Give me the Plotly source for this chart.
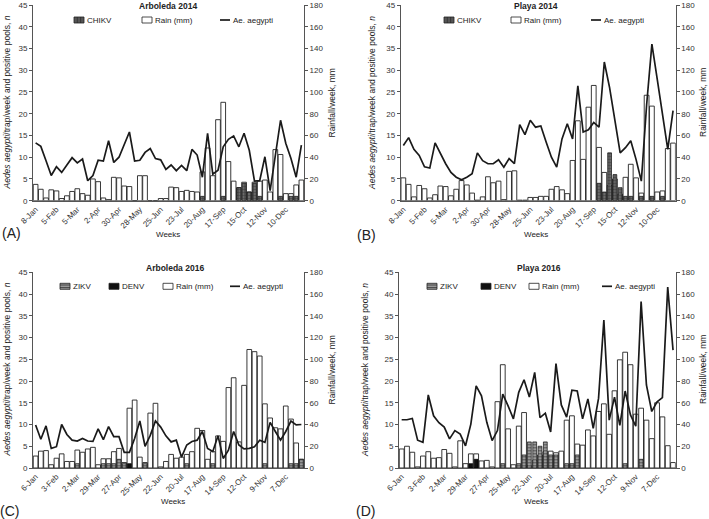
import plotly.graph_objects as go

W, H = 709, 519

weeks = list(range(1, 53))
tick_weeks = [1, 5, 9, 13, 17, 21, 25, 29, 33, 37, 41, 45, 49]
labels_2014 = ["8-Jan", "5-Feb", "5-Mar", "2-Apr", "30-Apr", "28-May", "25-Jun",
               "23-Jul", "20-Aug", "17-Sep", "15-Oct", "12-Nov", "10-Dec"]
labels_2016 = ["6-Jan", "3-Feb", "2-Mar", "29-Mar", "27-Apr", "25-May", "22-Jun",
               "20-Jul", "17-Aug", "14-Sep", "12-Oct", "9-Nov", "7-Dec"]

# ---- Arboleda 2014 ----
rain_arb14 = [15, 10.5, 2.5, 10, 9, 2, 4.5, 8.5, 11, 6.5, 5, 20, 17.5, 2.5, 1, 21.5, 21, 13.5, 13, 0,
              23, 23, 0, 0, 2, 2, 12.5, 12, 8.5, 9.5, 8.5, 8, 26.5, 48.5, 23, 74.5, 90.5, 36, 18, 12,
              17, 8, 17, 18, 19, 8, 47, 42.5, 6.5, 6.5, 14.5, 19]
aeg_arb14 = [13.3, 12.5, 9.2, 5.8, 7.8, 6.5, 8.2, 9.9, 8.7, 9.6, 4.6, 5.8, 9.3, 9.1, 13.8, 8.8, 10.0,
             13.0, 15.8, 9.1, 9.3, 11.1, 12.0, 9.7, 9.4, 7.2, 8.2, 6.9, 8.1, 6.9, 11.8, 10.5, 5.4,
             15.5, 6.1, 7.0, 12.4, 14.1, 14.9, 12.4, 15.5, 11.6, 4.5, 4.6, 10.1, 2.3, 10.4, 18.5,
             13.2, 9.7, 5.4, 12.8]
chikv_arb14 = [0] * 32 + [1, 0, 0, 0, 1, 0, 0, 3, 4, 2, 4, 1, 0, 0, 0, 1, 0, 1, 1, 0]

# ---- Playa 2014 ----
rain_pla14 = [21, 15, 3.5, 14, 11, 2.5, 5.5, 13.5, 13, 4.5, 10.5, 18.5, 14.5, 7, 0.5, 3.5, 22, 16.5,
              18, 1, 27, 27.5, 0.5, 0.5, 3, 3, 4, 4, 10.5, 13, 10, 6.5, 37, 73.5, 38, 86, 106, 49,
              26, 14, 20, 6, 21.5, 33.5, 21, 7, 97, 87, 8, 9, 48, 53]
aeg_pla14 = [12.7, 14.5, 11.8, 10.4, 7.8, 7.5, 13.3, 10.9, 8.5, 6.5, 5.4, 4.8, 5.4, 6.2, 11.0, 9.2,
             8.5, 8.5, 9.4, 7.7, 9.7, 8.5, 17.5, 15.2, 18.5, 16.9, 17.2, 13.5, 10.0, 7.7, 14.2, 17.7,
             14.2, 26.4, 15.8, 16.3, 18.0, 16.9, 31.9, 26.0, 18.5, 11.0, 12.2, 13.8, 9.5, 4.5, 22.0,
             36.0, 28.0, 20.0, 11.8, 20.7]
chikv_pla14 = [0] * 37 + [4, 2, 11, 6, 3, 1, 1, 0, 1, 0, 1, 0, 1, 0, 0]

# ---- Arboleda 2016 ----
rain_arb16 = [11, 15.5, 16, 3, 9, 13, 6, 6, 16.5, 14.5, 17.5, 19, 3, 8.5, 8.5, 15, 18, 5, 55, 62.5,
              10, 5, 50.5, 59.5, 1, 6, 12.5, 9, 10, 12.5, 15, 36.5, 34.5, 8, 15, 29.5, 24.5, 74, 83,
              24, 76, 109, 107, 103, 59, 46, 37, 36, 57, 45, 23, 8]
aeg_arb16 = [9.9, 6.6, 9.7, 4.5, 4.9, 10.0, 7.7, 6.4, 6.2, 6.8, 6.2, 6.1, 9.0, 6.5, 9.5, 7.2, 7.2,
             3.6, 3.6, 6.8, 10.8, 5.0, 7.5, 10.8, 9.4, 7.4, 6.0, 6.4, 2.5, 5.3, 6.1, 6.4, 8.4, 4.5,
             3.8, 7.4, 2.2, 4.1, 8.4, 5.3, 4.4, 4.5, 4.9, 6.4, 5.9, 10.5, 8.4, 6.4, 8.4, 10.8, 9.9, 10.0]
zikv_arb16 = [0] * 8 + [1, 0, 0, 0, 0, 1, 1, 1, 2, 1, 0, 0, 0, 1, 0, 0, 0, 0, 0, 0, 0, 1, 0, 0, 0, 0,
                        1, 0, 0, 0, 0, 0, 0, 0, 0, 0, 1, 0, 0, 0, 0, 1, 1, 2]
denv_arb16 = [0] * 18 + [1] + [0] * 33

# ---- Playa 2016 ----
rain_pla16 = [17.5, 20, 14.5, 1, 11, 15, 9, 9.5, 17, 13.5, 1, 25, 4, 13, 13, 6.5, 7, 1, 61, 95, 36, 3,
              38.5, 51, 2, 7, 12, 15, 15.5, 14, 15.5, 44, 48, 22, 21, 35, 29.5, 52, 59, 31, 71, 99.5,
              106.5, 95, 49.5, 55, 44, 27, 60, 47, 20.5, 5]
aeg_pla16 = [11.1, 11.1, 11.4, 6.4, 5.9, 16.8, 12.0, 10.4, 9.4, 6.7, 8.6, 7.8, 5.1, 10.1, 18.9, 16.6,
             10.5, 6.3, 8.6, 17.0, 14.3, 11.3, 17.4, 20.3, 16.3, 22.0, 11.6, 12.6, 8.3, 24.0, 14.5,
             11.7, 17.9, 17.7, 11.3, 15.9, 9.1, 16.0, 34.0, 11.0, 16.3, 9.8, 17.7, 12.2, 9.6, 38.3,
             19.1, 13.0, 15.2, 16.2, 41.6, 27.1]
zikv_pla16 = [0] * 19 + [1, 0, 0, 1, 3, 6, 6, 5, 6, 3, 3, 0, 1, 1, 3, 0, 0, 0, 0, 0, 0, 0, 0, 1, 0, 0,
                         2, 0, 0, 0, 0, 0, 0]
denv_pla16 = [0] * 13 + [1, 2] + [0] * 37

# ---------------------------------------------------------------
FONT = "Liberation Sans, Arial, sans-serif"
TXT = "#222"


def px(x):
    return x / W


def py(y):
    return 1 - y / H


def nz(v):
    return [None if a == 0 else a for a in v]


fig = go.Figure()

panels = [
    dict(n=1, xd=(33, 304), yd=(5, 200.7), labels=labels_2014, rain=rain_arb14, aeg=aeg_arb14,
         viruses=[("CHIKV", chikv_arb14, "chik")]),
    dict(n=2, xd=(400.7, 675.7), yd=(5, 200.7), labels=labels_2014, rain=rain_pla14, aeg=aeg_pla14,
         viruses=[("CHIKV", chikv_pla14, "chik")]),
    dict(n=3, xd=(33, 304), yd=(272.3, 468), labels=labels_2016, rain=rain_arb16, aeg=aeg_arb16,
         viruses=[("ZIKV", zikv_arb16, "zik"), ("DENV", denv_arb16, "den")]),
    dict(n=4, xd=(399, 675.7), yd=(272.3, 468), labels=labels_2016, rain=rain_pla16, aeg=aeg_pla16,
         viruses=[("ZIKV", zikv_pla16, "zik"), ("DENV", denv_pla16, "den")]),
]

styles = {
    "chik": dict(color="#5a5a5a", line=dict(color="#111", width=0.7),
                 pattern=dict(shape="+", fgcolor="#111", bgcolor="#6a6a6a", size=3, solidity=0.3)),
    "zik": dict(color="#888", line=dict(color="#111", width=0.7),
                pattern=dict(shape="-", fgcolor="#111", bgcolor="#9a9a9a", size=3, solidity=0.35)),
    "den": dict(color="#111", line=dict(color="#000", width=0.7)),
}

# legend key left edges (px) and row centre y for each panel, in trace order
legend_pos = {
    1: ([74, 142, 220], 20),
    2: ([444, 511, 591], 20),
    3: ([60, 109, 163, 230], 286.3),
    4: ([427, 481, 529, 602], 286.3),
}

shapes = []
annotations = []


def ann(text, x, y, size=8, bold=False, angle=0, xanchor="center", color=TXT):
    annotations.append(dict(text=f"<b>{text}</b>" if bold else text, x=px(x), y=py(y), xref="paper",
                            yref="paper", showarrow=False, xanchor=xanchor, yanchor="middle",
                            textangle=angle, font=dict(family=FONT, size=size, color=color)))


def legend_key(kind, x0, yc, label):
    w, h = 10, 6
    if kind == "line":
        shapes.append(dict(type="line", xref="paper", yref="paper", x0=px(x0), x1=px(x0 + w),
                           y0=py(yc), y1=py(yc), line=dict(color="#1a1a1a", width=1.7)))
    else:
        fill = {"chik": "#555", "zik": "#9a9a9a", "den": "#111", "rain": "white"}[kind]
        shapes.append(dict(type="rect", xref="paper", yref="paper", x0=px(x0), x1=px(x0 + w),
                           y0=py(yc + h / 2), y1=py(yc - h / 2), fillcolor=fill,
                           line=dict(color="#222", width=0.8)))
        if kind == "zik":
            for dy in (-1.3, 1.3):
                shapes.append(dict(type="line", xref="paper", yref="paper", x0=px(x0), x1=px(x0 + w),
                                   y0=py(yc + dy), y1=py(yc + dy), line=dict(color="#222", width=0.7)))
        if kind == "chik":
            for dx in (3.3, 6.6):
                shapes.append(dict(type="line", xref="paper", yref="paper", x0=px(x0 + dx),
                                   x1=px(x0 + dx), y0=py(yc - h / 2), y1=py(yc + h / 2),
                                   line=dict(color="#222", width=0.6)))
    ann(label, x0 + w + 0.5, yc, size=8, xanchor="left")


for p in panels:
    n = p["n"]
    xa = "x" if n == 1 else f"x{n}"
    ya_rain = f"y{2 * n - 1}" if n > 1 else "y"
    ya_cnt = f"y{2 * n}"
    xs, yl = legend_pos[n]
    k = 0
    for (name, vals, st) in p["viruses"]:
        fig.add_trace(go.Bar(x=weeks, y=nz(vals), name=name, xaxis=xa, yaxis=ya_cnt, width=0.72,
                             marker=styles[st], showlegend=False))
        legend_key(st, xs[k], yl, name)
        k += 1
    fig.add_trace(go.Bar(x=weeks, y=p["rain"], name="Rain (mm)", xaxis=xa, yaxis=ya_rain, width=0.9,
                         marker=dict(color="white", line=dict(color="#222", width=0.9)),
                         showlegend=False))
    legend_key("rain", xs[k], yl, "Rain (mm)")
    k += 1
    fig.add_trace(go.Scatter(x=weeks, y=p["aeg"], name="Ae. aegypti", mode="lines", xaxis=xa,
                             yaxis=ya_cnt, line=dict(color="#1a1a1a", width=1.7), showlegend=False))
    legend_key("line", xs[k], yl, "Ae. aegypti")

    xdom = [px(p["xd"][0]), px(p["xd"][1])]
    ydom = [py(p["yd"][1]), py(p["yd"][0])]
    xkey = "xaxis" if n == 1 else f"xaxis{n}"
    yrk = "yaxis" if n == 1 else f"yaxis{2 * n - 1}"
    yck = f"yaxis{2 * n}"
    axfont = dict(family=FONT, size=8, color="#333")
    fig.layout[xkey] = dict(domain=xdom, range=[0.5, 52.5], anchor=ya_rain, tickmode="array",
                            tickvals=tick_weeks, ticktext=p["labels"], tickangle=-45, showline=True,
                            linecolor="#555", linewidth=1, ticks="", showgrid=False, zeroline=False,
                            tickfont=axfont, automargin=False, fixedrange=True)
    fig.layout[yrk] = dict(domain=ydom, range=[0, 180], dtick=20, anchor=xa, side="right",
                           showline=True, linecolor="#555", linewidth=1, ticks="outside", ticklen=3,
                           tickcolor="#555", showgrid=False, zeroline=False, tickfont=axfont,
                           automargin=False, fixedrange=True)
    fig.layout[yck] = dict(range=[0, 45], dtick=5, anchor=xa, overlaying=ya_rain, side="left",
                           showline=True, linecolor="#555", linewidth=1, ticks="outside", ticklen=3,
                           tickcolor="#555", showgrid=False, zeroline=False, tickfont=axfont,
                           automargin=False, fixedrange=True)

ytitle = "<i>Aedes aegypti</i>/trap/week and positive pools, <i>n</i>"
rtitle = "Rainfall/week, mm"

ann("Arboleda 2014", 168, 6, size=8.5, bold=True)
ann("Playa 2014", 536, 6, size=8.5, bold=True)
ann("Arboleda 2016", 175, 268, size=8.5, bold=True)
ann("Playa 2016", 539, 268, size=8.5, bold=True)

ann(ytitle, 6.5, 103, size=8.5, angle=-90)
ann(ytitle, 372, 103, size=8.5, angle=-90)
ann(ytitle, 6.5, 370, size=8.5, angle=-90)
ann(ytitle, 365, 370, size=8.5, angle=-90)

ann(rtitle, 331.5, 103, size=8.5, angle=-90)
ann(rtitle, 703, 103, size=8.5, angle=-90)
ann(rtitle, 331.5, 370, size=8.5, angle=-90)
ann(rtitle, 703, 370, size=8.5, angle=-90)

ann("Weeks", 168, 234, size=8)
ann("Weeks", 536, 234, size=8)
ann("Weeks", 173, 501, size=8)
ann("Weeks", 536, 501, size=8)

ann("(A)", 0, 233, size=14, xanchor="left")
ann("(B)", 355, 235, size=14, xanchor="left")
ann("(C)", -2, 511, size=14, xanchor="left")
ann("(D)", 354, 511, size=14, xanchor="left")

fig.update_layout(width=W, height=H, margin=dict(l=0, r=0, t=0, b=0), autosize=False,
                  paper_bgcolor="white", plot_bgcolor="rgba(0,0,0,0)", barmode="overlay",
                  font=dict(family=FONT, size=8, color=TXT), annotations=annotations,
                  shapes=shapes, showlegend=False)

fig.write_html("out.html", config={"displayModeBar": False},
               post_script="document.body.style.margin='0px';")
